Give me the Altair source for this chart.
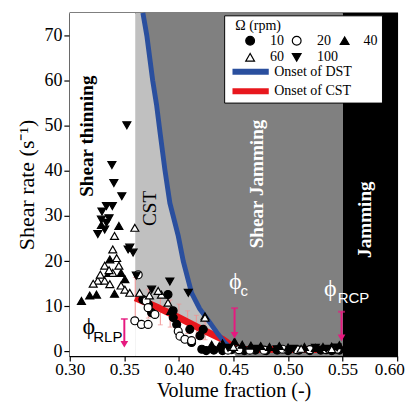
import altair as alt
import pandas as pd

# ---------------- data ----------------
rpm_labels = ["10", "20", "40", "60", "100"]
rpm_shapes = ["circle", "circle", "triangle-up", "triangle-up", "triangle-down"]
rpm_fills = ["black", "white", "black", "white", "black"]

rpm10_x = [0.367, 0.372, 0.375, 0.369, 0.3948, 0.398, 0.41, 0.4193, 0.4116, 0.421, 0.4223, 0.39, 0.3947,
           0.425, 0.432, 0.44, 0.448, 0.46, 0.47, 0.48, 0.49, 0.50, 0.51, 0.52, 0.53, 0.54, 0.547]
rpm10_y = [11.5, 10.4, 8.6, 11.3, 7.5, 6.0, 4.9, 3.5, 2.0, 0.5, 4.9, 12.6, 9.0,
           0.2, 0.3, 0.2, 0.4, 0.2, 0.3, 0.2, 0.3, 0.2, 0.3, 0.2, 0.3, 0.2, 0.3]
rpm20_x = [0.3627, 0.3596, 0.3657, 0.3718, 0.37, 0.3718, 0.378, 0.3994, 0.401, 0.4055, 0.4116,
           0.445, 0.455, 0.465, 0.478, 0.495, 0.508, 0.52, 0.535, 0.545]
rpm20_y = [17.0, 6.8, 6.0, 6.0, 11.2, 9.7, 8.2, 4.5, 3.4, 2.7, 2.4,
           0.3, 0.4, 0.3, 0.3, 0.5, 0.4, 0.4, 0.4, 0.5]
rpm40_x = [0.3107, 0.3183, 0.3245, 0.341, 0.3367, 0.3358, 0.345, 0.347, 0.3505, 0.329, 0.3925, 0.4239,
           0.43, 0.437, 0.44, 0.451, 0.458, 0.466, 0.475, 0.483, 0.492, 0.50, 0.515, 0.525, 0.532, 0.54, 0.547]
rpm40_y = [11.2, 12.4, 12.6, 12.8, 20.4, 17.4, 27.8, 17.4, 16.0, 28.0, 9.0, 7.8,
           1.5, 1.2, 1.8, 2.2, 1.5, 1.3, 1.2, 1.0, 1.2, 0.9, 1.0, 0.8, 1.0, 1.1, 1.4]
rpm60_x = [0.3596, 0.341, 0.3394, 0.343, 0.332, 0.345, 0.3394, 0.3257, 0.332, 0.3367, 0.3215, 0.347,
           0.3505, 0.355, 0.364, 0.373, 0.384, 0.39, 0.381, 0.4239, 0.328, 0.336,
           0.45, 0.512, 0.54]
rpm60_y = [27.4, 25.6, 22.6, 20.7, 19.0, 19.0, 17.4, 15.7, 15.7, 14.9, 15.0, 14.6,
           13.7, 13.0, 13.0, 12.4, 12.6, 10.8, 13.4, 7.5, 17.0, 18.0,
           1.0, 0.6, 0.5]
rpm100_x = [0.3523, 0.3386, 0.3404, 0.3477, 0.3336, 0.339, 0.329, 0.3336, 0.3257, 0.332, 0.3535, 0.358,
            0.355, 0.361, 0.375, 0.3917, 0.4086, 0.3295, 0.336,
            0.445, 0.47, 0.49, 0.505, 0.525, 0.535, 0.545]
rpm100_y = [50.1, 41.3, 37.3, 34.4, 32.2, 32.2, 29.2, 28.5, 26.0, 27.0, 22.6, 21.9,
            23.0, 16.8, 13.7, 15.5, 13.0, 31.0, 29.5,
            0.8, 0.6, 0.5, 0.6, 0.8, 0.6, 0.9]

blue_x = [0.367, 0.3706, 0.376, 0.3795, 0.383, 0.3872, 0.3917, 0.3994, 0.404, 0.4116, 0.419, 0.4284, 0.436, 0.442, 0.448]
blue_y = [75, 70, 60, 54.7, 48, 40.2, 32.9, 25.6, 20, 13, 9.5, 6.4, 3.8, 2.0, 0.6]
red_x = [0.36, 0.38, 0.40, 0.42, 0.44, 0.45, 0.46, 0.55]
red_y = [11.9, 9.8, 7.5, 5.0, 2.7, 1.0, 0.5, 0.4]

err_x = [0.36, 0.372, 0.383, 0.392, 0.40, 0.408, 0.416, 0.424]
err_c = [11.9, 10.6, 9.4, 8.4, 7.5, 6.5, 5.5, 4.6]
err_h = [4.5, 3.2, 3.5, 3.0, 3.0, 2.5, 2.5, 2.0]

arrow_x = [0.35, 0.451, 0.549]
arrow_top = [7.2, 9.6, 8.8]
arrow_bot = [0.4, 2.4, 1.8]

region_x0 = [0.30, 0.36, 0.55]
region_x1 = [0.36, 0.55, 0.60]
region_col = ["white", "#c0c0c0", "black"]

BLUE = "#2a4f9e"
RED = "#e8171d"
PINK = "#e6197f"
SERIF = "Liberation Serif"
SANS = "Liberation Sans"

X = alt.Scale(domain=[0.30, 0.60], nice=False, zero=False)
Y = alt.Scale(domain=[-1, 75], nice=False, zero=False)

x_axis = alt.Axis(values=[round(0.30 + 0.025 * i, 3) for i in range(13)],
                  labelExpr="round(datum.value*1000) % 50 === 0 ? format(datum.value, '.2f') : ''",
                  tickSize={"condition": {"test": "round(datum.value*1000) % 50 === 0", "value": 5}, "value": 3},
                  labelOffset={"condition": {"test": "datum.value >= 0.599", "value": -8}, "value": 0},
                  title="Volume fraction (-)", grid=False, labelFont=SERIF, labelFontSize=17.5,
                  titleFont=SERIF, titleFontSize=20.5, titleFontWeight="normal", labelColor="black",
                  titleColor="black", domainColor="black", tickColor="black", domainWidth=1.5,
                  tickWidth=1.2, labelPadding=0, titleY=25, titleBaseline="top", labelFlush=False)
y_axis = alt.Axis(values=list(range(0, 76, 5)),
                  labelExpr="datum.value % 10 === 0 ? datum.value : ''",
                  tickSize={"condition": {"test": "datum.value % 10 === 0", "value": 6}, "value": 4},
                  title="Shear rate (s\u207b\u00b9)", grid=False, labelFont=SERIF, labelFontSize=18.3,
                  titleFont=SERIF, titleFontSize=22.4, titleFontWeight="normal", labelColor="black",
                  titleColor="black", domainColor="black", tickColor="black", domainWidth=1.5,
                  tickWidth=1.2, labelPadding=2, titlePadding=6)

# regions
reg_df = pd.DataFrame({"x0": region_x0, "x1": region_x1, "c": region_col})
regions = alt.Chart(reg_df).mark_rect().encode(
    x=alt.X("x0:Q", scale=X, axis=x_axis), x2="x1:Q",
    y=alt.datum(-1, scale=Y, axis=y_axis), y2=alt.datum(75),
    fill=alt.Fill("c:N", scale=None))

red_df = pd.DataFrame({"x": red_x, "y": red_y, "b": [-1] * len(red_x)})
white_under = alt.Chart(red_df[red_df.x <= 0.46]).mark_area(color="white").encode(
    x=alt.X("x:Q", scale=X), y=alt.Y("y:Q", scale=Y), y2="b:Q")

blue_df = pd.DataFrame({"x": blue_x, "y": blue_y, "r": [0.55] * len(blue_x)})
dark_df = pd.concat([blue_df, pd.DataFrame({"x": [0.452], "y": [-1], "r": [0.55]})])
dark = alt.Chart(dark_df).mark_area(orient="horizontal", color="#808080").encode(
    y=alt.Y("y:Q", scale=Y), x=alt.X("x:Q", scale=X), x2="r:Q")

# region texts
rt_df = pd.DataFrame({
    "x": [0.3156, 0.3734, 0.4716, 0.5706],
    "y": [47.7, 31.7, 37.1, 29.2],
    "t": ["Shear thinning", "CST", "Shear Jamming", "Jamming"],
    "c": ["black", "black", "white", "white"],
    "w": ["bold", "normal", "bold", "bold"],
})
rtexts = []
for w in ["bold", "normal"]:
    rtexts.append(alt.Chart(rt_df[rt_df.w == w]).mark_text(
        angle=270, font=SERIF, fontSize=19.5, fontWeight=w, align="center", baseline="middle").encode(
        x=alt.X("x:Q", scale=X), y=alt.Y("y:Q", scale=Y), text="t:N", color=alt.Color("c:N", scale=None)))

# error bars
err_df = pd.DataFrame({"x": err_x, "lo": [c - h for c, h in zip(err_c, err_h)],
                       "hi": [c + h for c, h in zip(err_c, err_h)]})
err_rule = alt.Chart(err_df).mark_rule(color="#f19191", strokeWidth=1).encode(
    x=alt.X("x:Q", scale=X), y=alt.Y("lo:Q", scale=Y), y2="hi:Q")
err_cap1 = alt.Chart(err_df).mark_tick(color="#f19191", orient="horizontal", size=5, thickness=1).encode(
    x=alt.X("x:Q", scale=X), y=alt.Y("hi:Q", scale=Y))
err_cap2 = alt.Chart(err_df).mark_tick(color="#f19191", orient="horizontal", size=5, thickness=1).encode(
    x=alt.X("x:Q", scale=X), y=alt.Y("lo:Q", scale=Y))

# onset lines (native legend)
line_scale = alt.Scale(domain=["Onset of DST", "Onset of CST"], range=[BLUE, RED])
line_legend = alt.Legend(orient="none", legendX=164, legendY=52, title=None,
                         symbolType="M-3.7,0L3.7,0", symbolStrokeWidth=6, symbolSize=100,
                         symbolOffset=12.5, labelFont=SERIF, labelFontSize=14.3,
                         labelColor="black", labelOffset=16, rowPadding=-7, padding=0)
red_line = alt.Chart(red_df.assign(n="Onset of CST")).mark_line(strokeWidth=7).encode(
    x=alt.X("x:Q", scale=X), y=alt.Y("y:Q", scale=Y),
    color=alt.Color("n:N", scale=line_scale, legend=line_legend))
blue_line = alt.Chart(blue_df.assign(n="Onset of DST")).mark_line(strokeWidth=5).encode(
    x=alt.X("x:Q", scale=X), y=alt.Y("y:Q", scale=Y),
    color=alt.Color("n:N", scale=line_scale, legend=line_legend))

# points
rows = []
for lab, xs, ys in zip(rpm_labels, [rpm10_x, rpm20_x, rpm40_x, rpm60_x, rpm100_x],
                       [rpm10_y, rpm20_y, rpm40_y, rpm60_y, rpm100_y]):
    for a, b in zip(xs, ys):
        rows.append({"x": a, "y": b, "rpm": lab})
pts_df = pd.DataFrame(rows)
points = alt.Chart(pts_df).mark_point(filled=True, stroke="black", strokeWidth=1.2, size=66,
                                     opacity=1, fillOpacity=1).encode(
    x=alt.X("x:Q", scale=X), y=alt.Y("y:Q", scale=Y),
    shape=alt.Shape("rpm:N", scale=alt.Scale(domain=rpm_labels, range=rpm_shapes), legend=None),
    fill=alt.Fill("rpm:N", scale=alt.Scale(domain=rpm_labels, range=rpm_fills), legend=None))

# arrows
ar_df = pd.DataFrame({"x": arrow_x, "top": arrow_top, "bot": arrow_bot,
                      "head": [b + 1.2 for b in arrow_bot]})
ar_rule = alt.Chart(ar_df).mark_rule(color=PINK, strokeWidth=2).encode(
    x=alt.X("x:Q", scale=X), y=alt.Y("top:Q", scale=Y), y2="head:Q")
ar_cap = alt.Chart(ar_df).mark_tick(color=PINK, orient="horizontal", size=7, thickness=2).encode(
    x=alt.X("x:Q", scale=X), y=alt.Y("top:Q", scale=Y))
ar_head = alt.Chart(ar_df).mark_point(shape="triangle-down", filled=True, color=PINK, size=62,
                                      opacity=1).encode(
    x=alt.X("x:Q", scale=X), y=alt.Y("head:Q", scale=Y))

# phi labels
phi_df = pd.DataFrame({"x": [0.3175, 0.4517, 0.5388], "y": [5.4, 15.3, 13.7],
                       "c": ["black", "white", "white"]})
sub_df = pd.DataFrame({"x": [0.3215, 0.4565, 0.5455], "y": [3.2, 13.3, 11.8],
                       "t": ["RLP", "c", "RCP"], "c": ["black", "white", "white"]})
phi = alt.Chart(phi_df).mark_text(text="\u03d5", font=SERIF, fontSize=24.5, align="center",
                                  baseline="middle").encode(
    x=alt.X("x:Q", scale=X), y=alt.Y("y:Q", scale=Y), color=alt.Color("c:N", scale=None))
sub = alt.Chart(sub_df).mark_text(font=SANS, fontSize=15.3, align="left", baseline="middle").encode(
    x=alt.X("x:Q", scale=X), y=alt.Y("y:Q", scale=Y), text="t:N", color=alt.Color("c:N", scale=None))

# legend box and the rpm legend (drawn as a key)
one = alt.Chart(pd.DataFrame({"a": [0]}))
box = one.mark_rect(fill="white", stroke="black", strokeWidth=1).encode(
    x=alt.value(158), x2=alt.value(319), y=alt.value(3), y2=alt.value(92))
key_layers = [box, one.mark_text(text="\u03a9 (rpm)", font=SERIF, fontSize=14.3, align="left",
                                 baseline="middle", color="black").encode(
    x=alt.value(168.8), y=alt.value(13.1))]
key_sym_x = [184, 231.5, 280.4, 184, 231.5]
key_lab_x = [204.2, 252.1, 299.7, 204.2, 252.1]
key_row_y = [28.4, 28.4, 28.4, 45.3, 45.3]
for lab, shp, fl, sx, lx, ry in zip(rpm_labels, rpm_shapes, rpm_fills, key_sym_x, key_lab_x, key_row_y):
    key_layers.append(one.mark_point(shape=shp, filled=True, fill=fl, stroke="black", strokeWidth=1.2,
                                     size=80, opacity=1, fillOpacity=1).encode(
        x=alt.value(sx), y=alt.value(ry)))
    key_layers.append(one.mark_text(text=lab, font=SERIF, fontSize=14.3, align="left",
                                    baseline="middle", color="black").encode(
        x=alt.value(lx), y=alt.value(ry)))

chart = alt.layer(
    regions, white_under, dark, *rtexts, err_rule, err_cap1, err_cap2, red_line, blue_line,
    points, ar_rule, ar_cap, ar_head, phi, sub, *key_layers
).resolve_scale(color="shared").properties(
    width=334, height=350,
    autosize=alt.AutoSizeParams(type="none"),
    padding={"left": 63, "top": 1, "right": 9, "bottom": 46},
).configure_view(stroke="black", strokeWidth=1.2)

chart.save("out.html", embed_options={"renderer": "svg", "actions": False})
